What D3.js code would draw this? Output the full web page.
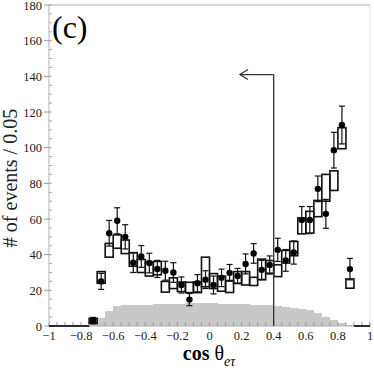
<!DOCTYPE html>
<html><head><meta charset="utf-8">
<script src="https://cdn.jsdelivr.net/npm/d3@7"></script>
<style>body{margin:0;background:#fff}svg{display:block}text{font-family:"Liberation Serif","Times New Roman",serif}</style>
</head><body><svg id="c" width="374" height="371"></svg>
<script>
const binCenters = [-0.725,-0.675,-0.625,-0.575,-0.525,-0.475,-0.425,-0.375,-0.325,-0.275,-0.225,-0.175,-0.125,-0.075,-0.025,0.025,0.075,0.125,0.175,0.225,0.275,0.325,0.375,0.425,0.475,0.525,0.575,0.625,0.675,0.725,0.775,0.825,0.875];
const dataValues = [3,25,52,59,50,35.5,39,35.3,32,31,30,23,14.8,24,26,23,27,29.8,28,34.8,40.7,31.5,34.2,42.7,36.8,41.2,59.4,59.4,76.9,62.9,98.6,112.7,31.9];
const dataErrors = [1.8,4.5,7.2,7.3,6.8,5.5,6.1,5.5,4.8,5.3,5.5,4.5,3.4,4.8,5,5,4.9,4.7,4.3,5.6,5.5,5.3,5.1,6.5,6.1,6.5,7.6,7.6,7.2,8.1,10,10.6,6];
const mcLow  = [1.5,24,38.6,43.6,40.6,33.5,30,28,28.7,19,21,19.3,18.7,18.7,22,21,19.5,18.8,24,23,22.7,25.9,29.6,27.7,35.3,39.4,51.7,52.1,61.3,70,76,99.4,21.2];
const mcHigh = [4.3,30.5,46.3,51.1,48.2,41.1,37.3,35.8,36.2,25,27,24.7,24.5,24.7,38.6,29.4,28,25.5,30.5,30.5,27.3,37.5,36.7,34.3,42.4,47.4,60.6,64.3,70.4,85,87,111.2,26.4];
const bkgValues = [4,4.5,8.5,11,11.5,11.8,12,12,12.2,12.3,12.5,12.6,12.7,12.8,12.8,12.7,12.6,12.5,12.3,12.2,12,11.8,11.6,11.3,10.8,10.3,9.8,9,7.5,5.2,3.4,1.5,0.3];
const emptyBins = [-0.975,-0.925,-0.875,-0.825,-0.775,0.925,0.975];
const xTicks = [-1,-0.8,-0.6,-0.4,-0.2,0,0.2,0.4,0.6,0.8,1];
const yTicks = [0,20,40,60,80,100,120,140,160,180];
const cutValue = 0.4, arrowTip = 0.19, arrowLevel = 141;
const binHalf = 0.025;

const svg = d3.select("#c");
const x = d3.scaleLinear().domain([-1,1]).range([49,370]);
const y = d3.scaleLinear().domain([0,180]).range([326,5]);

// background histogram
svg.append("g").selectAll("rect").data(binCenters).join("rect")
  .attr("x", (c)=>x(c-binHalf)).attr("width", (c)=>x(c+binHalf)-x(c-binHalf)+0.5)
  .attr("y", (c,i)=>y(bkgValues[i])).attr("height", (c,i)=>y(0)-y(bkgValues[i]))
  .attr("fill","#c8c8c8").attr("shape-rendering","crispEdges");

// frame
const axisCol = "#b0b0b0";
svg.append("line").attr("x1",x(-1)).attr("x2",x(1)).attr("y1",y(180)).attr("y2",y(180)).attr("stroke",axisCol);
svg.append("line").attr("x1",x(1)).attr("x2",x(1)).attr("y1",y(180)).attr("y2",y(0)).attr("stroke","#e0e0e0");

// x axis
const xMinor = d3.range(0,41).map(i=>-1+i*0.05);
const gx = svg.append("g").attr("transform",`translate(0,${y(0)})`);
gx.append("line").attr("x1",x(-1)).attr("x2",x(1)).attr("stroke",axisCol);
gx.selectAll("line.t").data(xMinor).join("line").attr("class","t")
  .attr("x1",d=>x(d)).attr("x2",d=>x(d)).attr("y1",0).attr("y2",-4).attr("stroke","#999");
gx.selectAll("text").data(xTicks).join("text")
  .attr("x",d=>x(d)).attr("y",14).attr("text-anchor","middle")
  .attr("font-size",12.5).attr("fill","#222").text(d=>d3.format("")(d));

// y axis
const yMinor = d3.range(0,37).map(i=>i*5);
const gy = svg.append("g").attr("transform",`translate(${x(-1)},0)`);
gy.append("line").attr("y1",y(0)).attr("y2",y(180)).attr("stroke",axisCol);
gy.selectAll("line.m").data(yMinor).join("line").attr("class","m")
  .attr("y1",d=>y(d)).attr("y2",d=>y(d)).attr("x1",0).attr("x2",3).attr("stroke","#aaa");
gy.selectAll("line.M").data(yTicks).join("line").attr("class","M")
  .attr("y1",d=>y(d)).attr("y2",d=>y(d)).attr("x1",-5).attr("x2",0).attr("stroke","#999");
gy.selectAll("text").data(yTicks).join("text")
  .attr("x",-7).attr("y",d=>y(d)+4.5).attr("text-anchor","end")
  .attr("font-size",12.5).attr("fill","#222").text(d=>d);

// empty bins (zero line)
svg.append("g").selectAll("line").data(emptyBins).join("line")
  .attr("x1",c=>x(c-binHalf)).attr("x2",c=>x(c+binHalf)).attr("y1",y(0)).attr("y2",y(0))
  .attr("stroke","#000").attr("stroke-width",1.6);

// MC boxes
svg.append("g").selectAll("rect").data(binCenters).join("rect")
  .attr("x",c=>x(c-binHalf)).attr("width",c=>x(c+binHalf)-x(c-binHalf))
  .attr("y",(c,i)=>y(mcHigh[i])).attr("height",(c,i)=>y(mcLow[i])-y(mcHigh[i]))
  .attr("fill","none").attr("stroke","#111").attr("stroke-width",1.6);

// error bars
const eb = svg.append("g").attr("stroke","#111").attr("stroke-width",1.2);
binCenters.forEach((c,i)=>{
  const cx=x(c), lo=y(dataValues[i]-dataErrors[i]), hi=y(dataValues[i]+dataErrors[i]);
  eb.append("line").attr("x1",cx).attr("x2",cx).attr("y1",lo).attr("y2",hi);
  eb.append("line").attr("x1",cx-3).attr("x2",cx+3).attr("y1",lo).attr("y2",lo);
  eb.append("line").attr("x1",cx-3).attr("x2",cx+3).attr("y1",hi).attr("y2",hi);
});
svg.append("g").selectAll("circle").data(binCenters).join("circle")
  .attr("cx",c=>x(c)).attr("cy",(c,i)=>y(dataValues[i])).attr("r",3.2).attr("fill","#000");

// cut line and arrow
const cut = svg.append("g").attr("stroke","#333").attr("stroke-width",1.3).attr("fill","none");
cut.append("line").attr("x1",x(cutValue)).attr("x2",x(cutValue)).attr("y1",y(0)).attr("y2",y(arrowLevel));
cut.append("line").attr("x1",x(cutValue)).attr("x2",x(arrowTip)).attr("y1",y(arrowLevel)).attr("y2",y(arrowLevel));
cut.append("path").attr("d",`M${x(arrowTip)+8},${y(arrowLevel)-5}L${x(arrowTip)},${y(arrowLevel)}L${x(arrowTip)+8},${y(arrowLevel)+5}`);

// labels
svg.append("text").attr("x",52).attr("y",38).attr("font-size",32).attr("fill","#000").text("(c)");
svg.append("text").attr("transform",`translate(17,178) rotate(-90)`).attr("text-anchor","middle")
  .attr("font-size",20).attr("fill","#222").text("# of events / 0.05");
const xl = svg.append("text").attr("x",209).attr("y",360).attr("text-anchor","middle").attr("fill","#000");
xl.append("tspan").attr("font-size",20).attr("font-weight","bold").text("cos ");
xl.append("tspan").attr("font-size",20).text("θ");
xl.append("tspan").attr("font-size",14).attr("font-style","italic").attr("dy",6).text("eτ");
</script></body></html>
